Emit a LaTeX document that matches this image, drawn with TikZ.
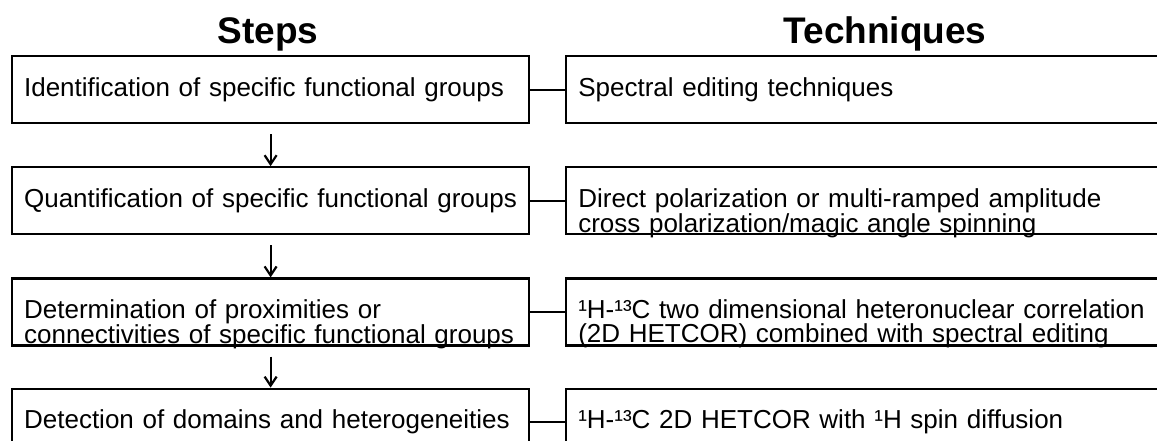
\documentclass[tikz,border=0pt]{standalone}
\usepackage{fontspec}
\setmainfont{Liberation Sans}
\usetikzlibrary{arrows.meta, positioning}

\begin{document}
\begin{tikzpicture}[
  x=1pt, y=-1pt,
  every node/.style={font=\fontsize{26}{24}\selectfont},
  hdr/.style={font=\fontsize{37}{37}\selectfont\bfseries, inner sep=0pt},
  stepbox/.style={rectangle, draw, line width=2.2pt, minimum width=517pt, minimum height=67pt, text width=493pt, inner xsep=12pt, inner ysep=0pt, align=left, text height=19pt, text depth=6pt},
  techbox/.style={stepbox, minimum width=640pt, text width=616pt},
  arr/.style={-{Straight Barb[length=9pt,width=12pt]}, line width=2.2pt, shorten <=10pt},
  conn/.style={line width=2pt},
]
\useasboundingbox (0,0) rectangle (1157,441);

% column heads
\node[hdr, anchor=base] (hs) at (268,44) {Steps};
\node[hdr, anchor=base] (ht) at (885,44) {Techniques};

% steps
\node[stepbox, anchor=north west] (s1) at (11,55) {Identification of specific functional groups};
\node[stepbox, below=42pt of s1]  (s2) {Quantification of specific functional groups};
\node[stepbox, below=42pt of s2]  (s3) {Determination of proximities or\\connectivities of specific functional groups};
\node[stepbox, below=41pt of s3]  (s4) {Detection of domains and heterogeneities};

% techniques
\node[techbox, right=35pt of s1]  (t1) {Spectral editing techniques};
\node[techbox, right=35pt of s2]  (t2) {Direct polarization or multi-ramped amplitude\\cross polarization/magic angle spinning};
\node[techbox, right=35pt of s3]  (t3) {¹H-¹³C two dimensional heteronuclear correlation\\(2D HETCOR) combined with spectral editing};
\node[techbox, right=35pt of s4]  (t4) {¹H-¹³C 2D HETCOR with ¹H spin diffusion};

\draw[arr] (s1) -- (s2);
\draw[arr] (s2) -- (s3);
\draw[arr] (s3) -- (s4);

\draw[conn] (s1) -- (t1);
\draw[conn] (s2) -- (t2);
\draw[conn] (s3) -- (t3);
\draw[conn] (s4) -- (t4);
\end{tikzpicture}
\end{document}
